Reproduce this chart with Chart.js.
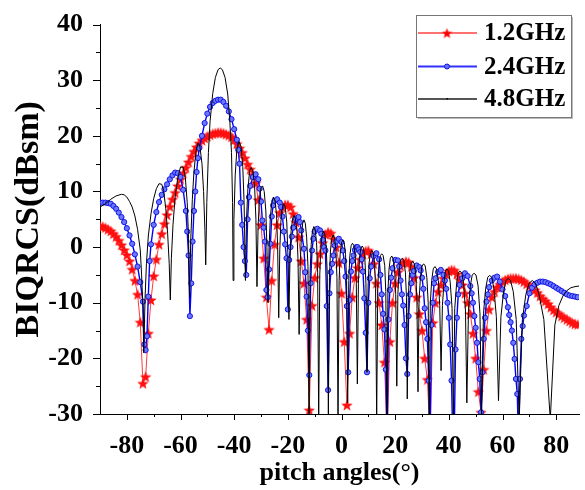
<!DOCTYPE html>
<html>
<head>
<meta charset="utf-8">
<script src="https://cdn.jsdelivr.net/npm/chart.js@4.4.1/dist/chart.umd.min.js"></script>
<style>
  html, body { margin: 0; padding: 0; background: #fff; }
  #wrap { width: 585px; height: 490px; }
</style>
</head>
<body>
<div id="wrap"><canvas id="rcs" width="585" height="490"></canvas></div>
<script>
// series labels
const seriesNames = ['1.2GHz', '2.4GHz', '4.8GHz'];

// 1.2GHz (read every degree)
const redAngles = [
  -90, -89, -88, -87, -86, -85, -84, -83, -82, -81, -80, -79, -78, -77, -76, -75, -74, -73, -72, -71,
  -70, -69, -68, -67, -66, -65, -64, -63, -62, -61, -60, -59, -58, -57, -56, -55, -54, -53, -52, -51,
  -50, -49, -48, -47, -46, -45, -44, -43, -42, -41, -40, -39, -38, -37, -36, -35, -34, -33, -32, -31,
  -30, -29, -28, -27, -26, -25, -24, -23, -22, -21, -20, -19, -18, -17, -16, -15, -14, -13, -12, -11,
  -10, -9, -8, -7, -6, -5, -4, -3, -2, -1, 0, 1, 2, 3, 4, 5, 6, 7, 8, 9,
  10, 11, 12, 13, 14, 15, 16, 17, 18, 19, 20, 21, 22, 23, 24, 25, 26, 27, 28, 29,
  30, 31, 32, 33, 34, 35, 36, 37, 38, 39, 40, 41, 42, 43, 44, 45, 46, 47, 48, 49,
  50, 51, 52, 53, 54, 55, 56, 57, 58, 59, 60, 61, 62, 63, 64, 65, 66, 67, 68, 69,
  70, 71, 72, 73, 74, 75, 76, 77, 78, 79, 80, 81, 82, 83, 84, 85, 86, 87, 88
];
const redValues = [
  3.8, 3.7, 3.5, 3.2, 2.9, 2.4, 1.9, 1.2, 0.4, -0.5, -1.4, -2.5, -4.0, -6.0, -8.5, -13.5, -24.5, -23.3, -15.5, -9.5,
  -5.2, -2.2, 0.5, 2.4, 4.2, 5.8, 7.3, 8.6, 9.8, 11.0, 12.2, 13.3, 14.3, 15.3, 16.3, 17.2, 18.0, 18.7, 19.2, 19.6,
  19.9, 20.2, 20.4, 20.5, 20.6, 20.6, 20.5, 20.3, 20.1, 19.8, 19.3, 18.6, 17.8, 17.0, 16.0, 14.9, 14.0, 13.0, 11.5, 8.5,
  4.0, -2.0, -9.0, -14.8, -6.0, 0.5, 4.0, 6.2, 7.2, 7.6, 7.6, 7.2, 6.0, 4.5, 1.8, -2.5, -6.5, -13.0, -29.3, -10.5,
  -5.5, -3.0, -1.2, 0.8, 2.3, 2.7, 2.5, 1.5, 0.0, -2.8, -8.3, -17.0, -28.4, -15.5, -9.0, -5.5, -3.7, -2.2, -1.2, -0.7,
  -0.6, -1.2, -3.0, -6.5, -10.0, -14.0, -20.7, -34.0, -17.0, -10.0, -6.5, -4.5, -3.4, -2.8, -2.6, -2.7, -3.5, -5.5, -9.0, -12.0,
  -15.0, -20.0, -23.8, -34.0, -13.6, -10.0, -8.0, -6.8, -5.6, -4.8, -4.3, -4.1, -4.2, -4.8, -5.8, -6.8, -8.3, -10.0, -12.0, -15.5,
  -20.0, -26.0, -29.7, -22.0, -15.0, -11.2, -9.0, -8.0, -7.2, -6.7, -6.2, -5.9, -5.7, -5.6, -5.6, -5.6, -5.7, -5.9, -6.2, -6.6,
  -7.0, -7.3, -7.7, -8.2, -8.8, -9.3, -9.7, -10.2, -10.8, -11.3, -11.7, -12.0, -12.4, -12.7, -13.0, -13.3, -13.6, -13.8, -13.9
];

// 2.4GHz
const blueAngles = [
  -90, -89, -88, -87, -86, -85, -84, -83, -82, -81, -80, -79, -78, -77, -76, -75, -74, -73.5, -73, -72.5,
  -72, -71.5, -71, -70, -69, -68, -67, -66, -65, -64, -63, -62, -61, -60, -59, -58, -57.5, -57, -56.5, -56,
  -55.5, -55, -54.5, -54, -53.5, -53, -52, -51, -50, -49, -48, -47, -46, -45, -44, -43, -42, -41, -40, -39,
  -38.5, -38, -37.5, -37, -36.5, -36, -35.5, -35, -34.5, -34, -33, -32, -31, -30.5, -30, -29.5, -29, -28.5, -28, -27.5,
  -27, -26.5, -26, -25.5, -25, -24, -23, -22.5, -22, -21.5, -21, -20.5, -20, -19.5, -19, -18.5, -18, -17, -16, -15.5,
  -15, -14, -13.5, -13, -12.5, -12, -11.5, -11, -10.5, -10, -9, -8, -7.5, -7, -6.5, -6, -5.5, -5, -4.5, -4,
  -3.5, -3, -2.5, -2, -1, 0, 0.5, 1, 1.5, 2, 2.5, 3, 3.5, 4, 4.5, 5, 5.5, 6, 6.5, 7,
  7.5, 8, 8.5, 9, 9.5, 10, 10.5, 11, 12, 13, 14, 14.5, 15, 15.5, 16, 16.5, 17, 17.5, 18, 18.5,
  19, 20, 21, 21.5, 22, 22.5, 23, 23.5, 24, 24.5, 25, 25.5, 26, 26.5, 27, 28, 29, 29.5, 30, 30.5,
  31, 31.5, 32, 32.5, 33, 33.5, 34, 34.5, 35, 36, 37, 38, 38.5, 39, 39.5, 40, 40.5, 41, 41.5, 42,
  42.5, 43, 43.5, 44, 45, 46, 47, 48, 48.5, 49, 49.5, 50, 50.5, 51, 51.5, 52, 52.5, 53, 53.5, 54,
  54.5, 55, 56, 57, 58, 59, 60, 61, 62, 62.5, 63, 63.5, 64, 64.5, 65, 65.5, 66, 66.5, 67, 67.5,
  68, 69, 70, 71, 72, 73, 74, 75, 76, 77, 78, 79, 80, 81, 82, 83, 84, 85, 86, 87, 88
];
const blueValues = [
  8.0, 8.0, 8.0, 7.9, 7.8, 7.4, 6.9, 6.2, 5.4, 4.5, 3.4, 2.1, 0.6, -1.3, -3.5, -6.3, -9.8, -17.5, -18.5, -16.0,
  -8.9, -2.5, 0.5, 4.0, 6.3, 8.1, 9.4, 10.4, 11.3, 12.2, 12.9, 13.4, 13.3, 12.6, 10.3, 6.5, 2.8, -1.5, -12.4, -6.5,
  1.0, 6.5, 10.0, 13.5, 16.0, 17.8, 20.0, 22.3, 24.0, 25.2, 25.9, 26.3, 26.5, 26.5, 26.1, 25.4, 24.4, 23.0, 21.2, 19.3,
  17.5, 15.0, 8.0, 4.0, 0.0, -2.5, -5.0, 5.0, 9.0, 11.0, 12.6, 13.1, 12.2, 10.5, 8.2, 4.8, 3.5, 1.0, -7.7, -9.0,
  -4.0, 0.6, 5.5, 7.5, 8.3, 8.6, 8.0, 7.2, 5.5, 2.8, 0.5, -2.0, -11.2, -2.3, 0.0, 1.9, 3.5, 5.1, 5.4, 4.5,
  3.0, -0.3, -4.5, -8.9, -15.0, -23.0, -6.5, -0.6, 1.5, 2.8, 3.3, 3.0, 2.4, 1.3, 0.0, -0.6, -10.6, -25.7, -8.3, -4.5,
  -3.0, -1.5, 0.3, 1.0, 1.5, 0.9, -0.6, -2.5, -5.3, -10.6, -22.5, -9.5, -4.4, -2.5, -1.5, -0.5, 0.0, 0.0, -0.4, -0.9,
  -2.2, -4.4, -9.2, -15.4, -22.5, -10.0, -5.6, -3.5, -1.6, -1.1, -2.2, -5.0, -8.5, -12.0, -14.8, -22.0, -36.0, -13.0, -7.7, -5.5,
  -3.8, -2.3, -2.4, -3.5, -6.0, -8.5, -10.5, -14.0, -20.0, -22.8, -12.4, -8.5, -6.5, -5.0, -4.3, -3.3, -3.6, -4.2, -5.5, -7.5,
  -11.0, -13.5, -16.5, -24.0, -36.0, -14.0, -10.0, -6.5, -5.6, -4.5, -4.1, -5.0, -6.0, -7.5, -10.0, -12.7, -17.5, -24.0, -36.0, -34.0,
  -18.4, -12.7, -8.5, -6.8, -5.6, -4.7, -5.2, -7.0, -8.3, -10.0, -12.4, -14.5, -17.2, -20.7, -23.7, -29.7, -22.5, -16.5, -12.7, -9.8,
  -8.5, -7.2, -6.0, -5.5, -5.3, -6.2, -7.6, -8.8, -10.8, -12.2, -13.5, -15.0, -17.2, -20.1, -23.7, -26.4, -36.0, -23.7, -16.5, -14.2,
  -12.3, -10.6, -8.3, -7.3, -6.7, -6.4, -6.2, -6.2, -6.3, -6.5, -6.7, -7.0, -7.3, -7.6, -7.9, -8.2, -8.5, -8.7, -8.8, -8.9, -9.0
];

// 4.8GHz (nulls, shoulders and peaks of every lobe)
const blackAngles = [
  -90, -88, -86, -84, -82, -81, -80, -79, -78, -77, -76, -75, -74.5, -74, -73.7, -73.2, -72.7, -72, -71, -70,
  -69, -68, -67, -66.3, -65.5, -64.8, -64.2, -63.8, -63.4, -62.8, -62, -61, -60, -59, -58.2, -57.5, -57, -56.6, -56.2, -55.6,
  -55, -54.2, -53.5, -52.8, -52, -51.4, -50.9, -50.6, -50.2, -49.6, -49, -48, -47, -46, -45.2, -44.4, -43.4, -42.4, -41.6, -41,
  -40.6, -40.4, -40.1, -39.6, -39, -38.2, -37.4, -36.8, -36.3, -35.8, -35.4, -34.9, -34.2, -33.6, -33, -32.4, -31.9, -31.5, -31.1, -30.6,
  -30, -29.4, -28.8, -28.2, -27.8, -27.4, -27, -26.5, -26, -25.4, -24.8, -24.2, -23.8, -23.4, -23, -22.6, -22, -21.5, -21, -20.4,
  -20, -19.6, -19.2, -18.8, -18.2, -17.7, -17.2, -16.6, -16.2, -15.8, -15.4, -15, -14.5, -14, -13.5, -13, -12.5, -12.1, -11.7, -11.3,
  -10.8, -10.3, -9.8, -9.3, -8.9, -8.5, -8.1, -7.7, -7.2, -6.7, -6.2, -5.7, -5.3, -4.9, -4.5, -4.1, -3.6, -3.1, -2.6, -2.1,
  -1.7, -1.3, -0.9, -0.5, 0, 0.5, 1, 1.5, 1.9, 2.3, 2.7, 3.1, 3.6, 4.1, 4.6, 5.1, 5.5, 5.9, 6.3, 6.7,
  7.2, 7.7, 8.2, 8.7, 9.1, 9.5, 9.9, 10.3, 10.8, 11.3, 11.8, 12.3, 12.7, 13.1, 13.5, 13.9, 14.5, 15, 15.5, 16.1,
  16.5, 16.9, 17.3, 17.7, 18.2, 18.7, 19.2, 19.8, 20.2, 20.6, 21, 21.4, 22, 22.6, 23.2, 23.8, 24.2, 24.5, 24.9, 25.3,
  25.9, 26.5, 27.1, 27.7, 28.1, 28.5, 28.9, 29.4, 30, 30.6, 31.2, 31.8, 32.3, 32.7, 33.1, 33.6, 34.2, 34.8, 35.4, 36.1,
  36.6, 37.1, 37.6, 38.2, 38.7, 39.3, 39.9, 40.5, 41.2, 41.7, 42.2, 42.9, 43.5, 44.1, 44.8, 45.5, 46.2, 46.7, 47.3, 48,
  48.7, 49.4, 50.1, 50.9, 51.6, 52.2, 52.9, 53.7, 54.5, 55.2, 56, 56.8, 57.7, 58.5, 59.4, 60.4, 61.3, 62.1, 63, 64,
  65.1, 66.2, 67.4, 68.7, 69.9, 71.1, 72.3, 73.6, 75.4, 77.8, 79.5, 81, 82.5, 84, 85.5, 87, 88.5
];
const blackValues = [
  7.2, 7.8, 8.6, 9.2, 9.5, 9.4, 9.0, 8.2, 7.2, 5.6, 3.2, -0.5, -5.0, -11.0, -19.0, -9.0, -3.0, 2.0, 6.0, 8.7,
  10.5, 11.4, 11.3, 10.2, 7.0, 2.5, -3.0, -9.5, -2.0, 4.0, 9.0, 12.5, 14.4, 14.4, 12.5, 8.0, 1.5, -9.0, 1.0, 8.5,
  13.5, 17.3, 18.7, 18.2, 15.0, 10.0, 3.0, -3.2, 8.0, 17.0, 22.5, 27.6, 30.5, 31.9, 32.2, 31.9, 30.5, 27.5, 22.5, 17.0,
  8.0, -6.0, 5.0, 13.0, 17.5, 19.0, 18.0, 14.5, 8.0, -6.0, 5.0, 10.5, 13.8, 14.3, 13.6, 11.0, 5.0, -7.1, 3.5, 8.5,
  10.7, 11.0, 10.0, 6.5, 0.0, -10.0, 0.0, 5.5, 8.0, 9.0, 8.4, 5.8, 0.0, -12.7, -0.5, 4.5, 7.3, 7.8, 7.3, 4.5,
  -1.0, -13.0, -2.0, 2.8, 5.2, 5.7, 5.2, 2.8, -2.5, -15.7, -3.5, 1.5, 4.2, 4.9, 4.3, 1.8, -3.5, -31.0, -4.5, 0.5,
  3.0, 3.7, 3.1, 0.8, -4.5, -31.0, -5.0, 0.0, 2.3, 2.9, 2.3, 0.0, -5.0, -30.0, -5.5, -0.5, 1.6, 2.2, 1.6, -0.5,
  -5.5, -31.0, -6.0, -1.3, 0.8, 1.3, 0.8, -1.3, -6.0, -28.0, -6.0, -1.5, 0.3, 0.7, 0.3, -1.5, -6.0, -24.6, -6.5, -2.0,
  -0.2, 0.2, -0.2, -2.0, -6.5, -22.5, -7.0, -2.8, -1.0, -0.6, -1.0, -2.8, -7.5, -31.0, -7.5, -3.3, -1.5, -1.2, -1.5, -3.3,
  -8.0, -31.0, -8.0, -4.0, -2.0, -1.6, -2.0, -4.0, -8.5, -25.0, -8.5, -4.5, -2.4, -2.0, -2.4, -4.5, -9.0, -27.3, -9.0, -5.0,
  -3.0, -2.5, -3.0, -5.0, -9.5, -26.0, -9.5, -5.5, -3.4, -3.0, -3.4, -5.5, -10.0, -31.0, -10.0, -6.0, -3.9, -3.5, -3.9, -6.0,
  -10.5, -22.2, -10.5, -6.3, -4.3, -3.9, -4.3, -6.3, -11.0, -31.0, -11.0, -6.5, -4.6, -4.3, -4.6, -6.5, -11.5, -28.0, -11.5, -7.0,
  -5.0, -4.7, -5.0, -7.0, -12.0, -31.0, -12.0, -7.5, -5.4, -5.1, -5.4, -7.5, -12.5, -27.6, -12.5, -8.0, -6.0, -5.6, -6.0, -8.0,
  -13.0, -31.0, -13.0, -8.5, -6.5, -6.0, -6.5, -8.5, -13.0, -31.0, -14.0, -10.5, -8.8, -7.8, -7.3, -7.1, -7.0
];

// axes
const xMajorTicks = [-80, -60, -40, -20, 0, 20, 40, 60, 80];
const xMinorTicks = [-70, -50, -30, -10, 10, 30, 50, 70];
const yMajorTicks = [-30, -20, -10, 0, 10, 20, 30, 40];
const yMinorTicks = [-25, -15, -5, 5, 15, 25, 35];

const FONT = '"Liberation Serif", "Times New Roman", serif';

const toPoints = (xs, ys) => xs.map((x, i) => ({ x, y: ys[i] }));

const makeStar = (size, color) => {
  const c = document.createElement('canvas');
  c.width = size;
  c.height = size;
  const g = c.getContext('2d');
  const r = size / 2;
  g.beginPath();
  for (let i = 0; i < 10; i++) {
    const a = -Math.PI / 2 + i * Math.PI / 5;
    const rr = i % 2 ? r * 0.42 : r;
    g.lineTo(r + rr * Math.cos(a), r + 0.6 + rr * Math.sin(a));
  }
  g.closePath();
  g.fillStyle = color;
  g.fill();
  return c;
};
const star = makeStar(12, '#ff1010');
const legendStar = makeStar(11, '#ff0000');

// tick marks: longer on labelled values, short in between
const axisTicks = {
  id: 'axisTicks',
  afterDraw(chart) {
    const { ctx, chartArea: a, scales: { x, y } } = chart;
    ctx.save();
    ctx.strokeStyle = '#000';
    ctx.lineWidth = 1;
    ctx.beginPath();
    const xt = (v, len) => {
      const px = Math.round(x.getPixelForValue(v)) + 0.5;
      ctx.moveTo(px, a.bottom);
      ctx.lineTo(px, a.bottom + len);
    };
    const yt = (v, len) => {
      const py = Math.round(y.getPixelForValue(v)) + 0.5;
      ctx.moveTo(a.left, py);
      ctx.lineTo(a.left - len, py);
    };
    xMajorTicks.forEach(v => xt(v, 6));
    xMinorTicks.forEach(v => xt(v, 3));
    yMajorTicks.forEach(v => yt(v, 7));
    yMinorTicks.forEach(v => yt(v, 4));
    ctx.stroke();
    ctx.restore();
  }
};

const legendBox = {
  id: 'legendBox',
  afterDraw(chart) {
    const { ctx } = chart;
    const bx = 416, by = 15, bw = 155, bh = 102;
    ctx.save();
    ctx.fillStyle = '#bbb';
    ctx.fillRect(bx + 2, by + 2, bw, bh);
    ctx.fillStyle = '#fff';
    ctx.fillRect(bx, by, bw, bh);
    ctx.strokeStyle = '#777';
    ctx.lineWidth = 1;
    ctx.strokeRect(bx + 0.5, by + 0.5, bw, bh);
    const rows = [33, 66.5, 99];
    const lineCols = ['#ff7070', '#3030ff', '#555'];
    rows.forEach((ry, i) => {
      ctx.strokeStyle = lineCols[i];
      ctx.lineWidth = 2;
      ctx.beginPath();
      ctx.moveTo(418, ry);
      ctx.lineTo(477, ry);
      ctx.stroke();
      if (i === 0) {
        ctx.drawImage(legendStar, 447 - 5.5, ry - 5.5);
      } else if (i === 1) {
        ctx.beginPath();
        ctx.arc(447, ry, 2.5, 0, Math.PI * 2);
        ctx.fillStyle = '#6070ff';
        ctx.fill();
        ctx.strokeStyle = '#1010e0';
        ctx.lineWidth = 1;
        ctx.stroke();
      } else {
        ctx.fillStyle = '#000';
        ctx.fillRect(446.5, ry - 1, 1.5, 1.5);
      }
      ctx.fillStyle = '#000';
      ctx.font = `bold 25px ${FONT}`;
      ctx.textBaseline = 'middle';
      ctx.textAlign = 'left';
      ctx.fillText(seriesNames[i], 484, ry + 1);
    });
    ctx.restore();
  }
};

const ctx = document.getElementById('rcs').getContext('2d');
new Chart(ctx, {
  type: 'line',
  data: {
    datasets: [
      {
        label: seriesNames[0],
        data: toPoints(redAngles, redValues),
        borderColor: '#ff3a3a',
        borderWidth: 1,
        pointStyle: star,
        pointRadius: 5,
        order: 2
      },
      {
        label: seriesNames[1],
        data: toPoints(blueAngles, blueValues),
        borderColor: '#0000ff',
        borderWidth: 1.4,
        pointStyle: 'circle',
        pointRadius: 2.6,
        pointBorderWidth: 1,
        pointBorderColor: '#1515e6',
        pointBackgroundColor: '#6a78ff',
        order: 1
      },
      {
        label: seriesNames[2],
        data: toPoints(blackAngles, blackValues),
        borderColor: '#000',
        borderWidth: 1,
        pointRadius: 0,
        order: 0
      }
    ]
  },
  options: {
    responsive: false,
    animation: false,
    events: [],
    layout: { padding: { top: 19, right: 0, left: 0, bottom: 0 } },
    plugins: { legend: { display: false }, tooltip: { enabled: false } },
    scales: {
      x: {
        type: 'linear',
        min: -90,
        max: 88.5,
        afterBuildTicks: s => { s.ticks = xMajorTicks.map(v => ({ value: v })); },
        afterFit: s => { s.height = 76; },
        grid: { display: false },
        border: { display: true, color: '#000', width: 1 },
        ticks: {
          color: '#000',
          padding: 9,
          maxRotation: 0,
          font: { family: FONT, size: 26, weight: 'bold' },
          callback: v => String(v)
        },
        title: {
          display: true,
          text: 'pitch angles(°)',
          color: '#000',
          padding: { top: 0, bottom: 1 },
          font: { family: FONT, size: 26, weight: 'bold' }
        }
      },
      y: {
        min: -30,
        max: 40,
        afterBuildTicks: s => { s.ticks = yMajorTicks.map(v => ({ value: v })); },
        afterFit: s => { s.width = 100; },
        grid: { display: false },
        border: { display: true, color: '#000', width: 1 },
        ticks: {
          color: '#000',
          padding: 9,
          font: { family: FONT, size: 26, weight: 'bold' },
          callback: v => String(v)
        },
        title: {
          display: true,
          text: 'BIQRCS(dBsm)',
          color: '#000',
          padding: { top: 9, bottom: 0 },
          font: { family: FONT, size: 34, weight: 'bold' }
        }
      }
    }
  },
  plugins: [axisTicks, legendBox]
});
</script>
</body>
</html>
